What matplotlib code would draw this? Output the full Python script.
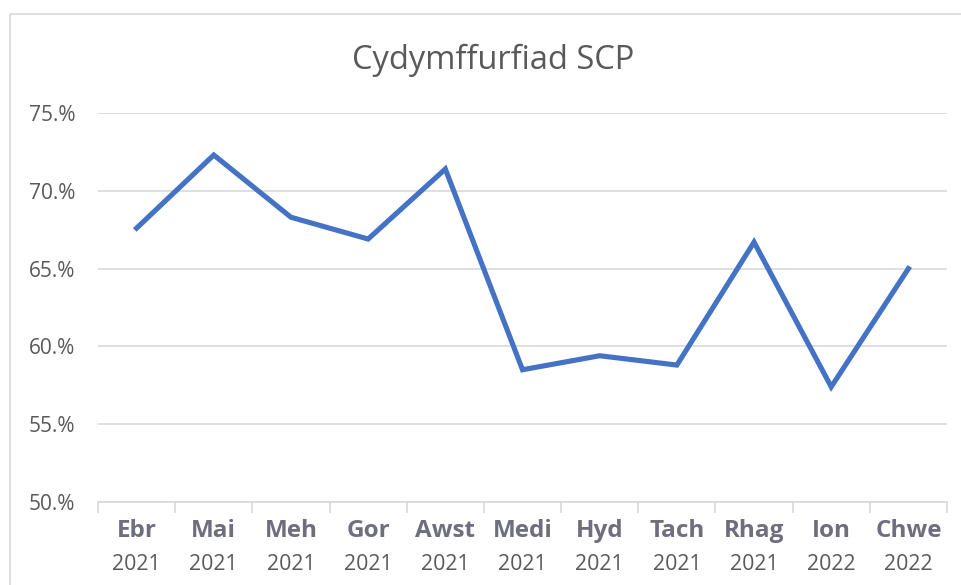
import matplotlib
matplotlib.use("Agg")
import matplotlib.pyplot as plt
from matplotlib.patches import Rectangle
from matplotlib.ticker import FixedLocator, NullFormatter

months = ["Ebr", "Mai", "Meh", "Gor", "Awst", "Medi", "Hyd", "Tach", "Rhag", "Ion", "Chwe"]
years = ["2021"] * 9 + ["2022"] * 2
values = [67.6, 72.3, 68.3, 66.9, 71.4, 58.5, 59.4, 58.8, 66.7, 57.4, 65.0]
yticks = [50, 55, 60, 65, 70, 75]
ytick_labels = ["50.%", "55.%", "60.%", "65.%", "70.%", "75.%"]
title = "Cydymffurfiad SCP"

plt.rcParams['font.family'] = ['Open Sans', 'DejaVu Sans']

fig = plt.figure(figsize=(9.62, 5.85), dpi=100)
fig.patches.append(Rectangle((10/962, -0.1), 1.2, 1 - 14/585 + 0.1, transform=fig.transFigure,
                             fill=False, edgecolor="#d9d9d9", linewidth=1.2))
ax = fig.add_axes([98/962, 1 - 502/585, (947 - 98)/962, (502 - 113)/585])

x = list(range(len(months)))
ax.plot(x, values, color="#4472C4", linewidth=3.7, solid_joinstyle="miter", zorder=3)
ax.set_xlim(-0.5, len(months) - 0.5)
ax.set_ylim(50, 75)

ax.set_yticks(yticks)
ax.set_yticklabels(ytick_labels, fontsize=15, color="#595959")
ax.tick_params(axis="y", length=0, pad=16.5)
ax.yaxis.grid(True, color="#d9d9d9", linewidth=1.2)
ax.set_axisbelow(True)

for s in ["top", "right", "left"]:
    ax.spines[s].set_visible(False)
ax.spines["bottom"].set_color("#d9d9d9")
ax.spines["bottom"].set_linewidth(1.2)

ax.xaxis.set_major_locator(FixedLocator([i - 0.5 for i in range(len(months) + 1)]))
ax.xaxis.set_major_formatter(NullFormatter())
ax.tick_params(axis="x", which="major", length=8, color="#d9d9d9", width=1.2)
ax.set_xticks(x, minor=True)
ax.set_xticklabels([""] * len(x), minor=True)
ax.tick_params(axis="x", which="minor", length=0)

for i, (m, yv) in enumerate(zip(months, years)):
    ax.annotate(m, xy=(i, 0), xycoords=("data", "axes fraction"), xytext=(0, -29),
                textcoords="offset pixels", ha="center", va="center",
                fontsize=17.5, fontweight="bold", color="#6e6e7e")
    ax.annotate(yv, xy=(i, 0), xycoords=("data", "axes fraction"), xytext=(0, -63),
                textcoords="offset pixels", ha="center", va="center",
                fontsize=15.3, color="#595959")

fig.text(493/962, 1 - 60/585, title, ha="center", va="center", fontsize=23.5, color="#595959")

fig.savefig("out.png", dpi=100)
